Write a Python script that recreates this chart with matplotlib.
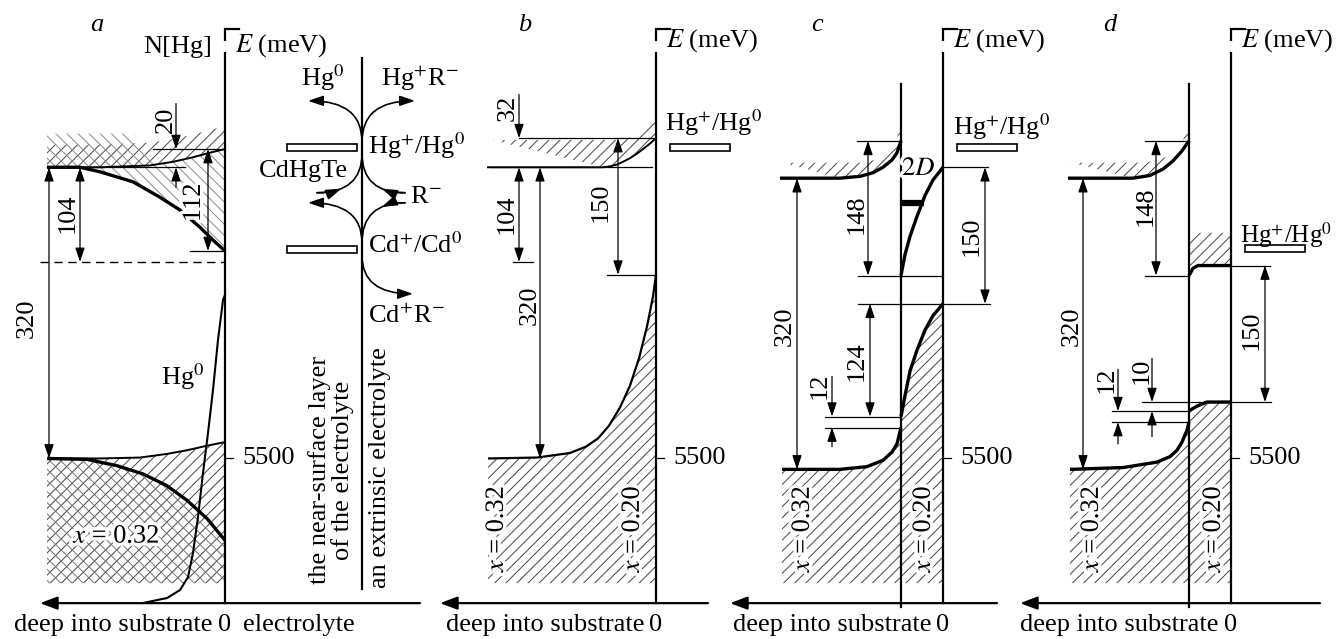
import numpy as np
import matplotlib
matplotlib.use("Agg")
import matplotlib.pyplot as plt
from matplotlib.patches import Polygon, Rectangle, FancyArrowPatch
from matplotlib.path import Path
import matplotlib.patheffects as pe

plt.rcParams['font.family'] = ['Liberation Serif', 'DejaVu Serif']
plt.rcParams['mathtext.fontset'] = 'stix'
plt.rcParams['hatch.linewidth'] = 0.7

W, H, DPI = 1336, 639, 100

# ---------------------------------------------------------------- levels (meV)
E_BOTTOM, E_TOP = 5301.6, 6003.8     # energy range shown in every panel
E_REF = 5500                          # labelled tick
E_FLOOR = 5363                        # lower edge of hatched valence bands
E_XAXIS = 5341                        # depth axis
E_AXIS_TOP = 5946
E_CORNER, E_CORNER_LOW = 5972, 5960
E_TITLE = 5976
E_BOTTOM_TEXT = 5317

# ---------------------------------------------------------------- panel a
A_CB_THIN_X = [-178, -125, -75, -52, -32, -15, 0]
A_CB_THIN_E = [5820, 5820, 5822, 5826, 5831, 5836, 5840]
A_CB_THICK_X = [-178, -145, -125, -92, -65, -45, -25, -12, 0]
A_CB_THICK_E = [5820, 5820, 5815, 5804, 5787, 5773, 5754, 5740, 5728]
A_CB_BACK_TOP = [5857, 5857, 5857, 5857, 5824, 5828, 5833, 5837, 5840]
A_THIN_BAND = 25
A_VB_THIN_X = [-178, -125, -85, -58, -38, -18, 0]
A_VB_THIN_E = [5500, 5500, 5501, 5505, 5509, 5514, 5518]
A_VB_THICK_X = [-178, -138, -108, -82, -58, -38, -18, 0]
A_VB_THICK_E = [5500, 5499, 5492, 5483, 5470, 5454, 5434, 5410]
A_DASHED = 5716
# mercury concentration profile N[Hg] (arbitrary units)
N_HG_X = [-82, -58, -45, -37, -32, -27, -22, -17, -12, -7, -2, 0]
N_HG = [0, 0.016, 0.042, 0.084, 0.162, 0.279, 0.422, 0.552, 0.692, 0.854, 0.984, 1.0]
N_LIM = (-0.117, 1.958)
A_HG_LEVEL, A_CD_LEVEL = 5842, 5730
ELECTROLYTE_X = 137

# ---------------------------------------------------------------- panel b
B_CB_X = [-169, -53, -46, -39, -33, -26, -19, -13, -6, 0]
B_CB_E = [5820, 5820, 5821, 5823, 5826, 5830, 5835, 5840, 5846, 5852]
B_CB_HATCH_X = [-164, -40, -25, -12, 0]
B_CB_HATCH_E = [5850, 5850, 5853, 5860, 5873]
B_VB_X = [-168, -119, -86, -70, -58, -47, -36, -26, -17, -9, -3, 0]
B_VB_E = [5500, 5501, 5506, 5513, 5522, 5536, 5556, 5580, 5610, 5645, 5678, 5702]

# ---------------------------------------------------------------- panel c
INTERFACE_X = -42
C_CB32_X = [-163, -103, -83, -70, -60, -51, -46, -42]
C_CB32_E = [5808, 5808, 5810, 5814, 5820, 5828, 5836, 5849]
C_CB_HATCH_X = [-160, -80, -62, -50, -42]
C_CB_HATCH_E = [5825, 5825, 5830, 5840, 5866]
C_CB20_X = [-42, -38, -33, -26, -18, -10, 0]
C_CB20_E = [5701, 5724, 5744, 5766, 5789, 5806, 5820]
C_2D_LEVEL = 5781
C_VB20_X = [-42, -38, -33, -26, -18, -10, 0]
C_VB20_E = [5546, 5569, 5596, 5619, 5641, 5657, 5670]
C_VB32_X = [-161, -103, -76, -60, -51, -46, -42]
C_VB32_E = [5488, 5488, 5491, 5498, 5507, 5516, 5534]

# ---------------------------------------------------------------- panel d
D_CB32_X = [-163, -98, -81, -68, -58, -49, -42]
D_CB32_E = [5808, 5808, 5811, 5818, 5827, 5838, 5849]
D_CB_HATCH_X = [-160, -85, -62, -50, -42]
D_CB_HATCH_E = [5825, 5825, 5832, 5843, 5869]
D_CB20_X = [-42, -38, -33, -24, 0]
D_CB20_E = [5701, 5709, 5712, 5712, 5712]
D_CB20_HATCH_TOP = 5748
D_VB20_X = [-42, -38, -33, -24, 0]
D_VB20_E = [5552, 5555, 5558, 5562, 5562]
D_VB32_X = [-161, -108, -74, -61, -54, -49, -44, -42]
D_VB32_E = [5488, 5490, 5496, 5502, 5509, 5518, 5531, 5540]
D_HG_LEVEL = 5731

# panel extents on the canvas: (left px, right px, energy-axis px)
PANELS = {'a': (0, 440, 225), 'b': (440, 720, 656),
          'c': (720, 1010, 943), 'd': (1010, 1336, 1231)}

FS = 19
THICK, THIN, AXLW, DIMLW = 2.4, 1.1, 1.6, 0.9
SMALL_HEAD = '-|>,head_length=0.65,head_width=0.22'
DOUBLE_HEAD = '<|-|>,head_length=0.65,head_width=0.22'
HALO = [pe.withStroke(linewidth=5, foreground='white')]

fig = plt.figure(figsize=(W / DPI, H / DPI), dpi=DPI)


def make_axes(key):
    x0, x1, xa = PANELS[key]
    ax = fig.add_axes([x0 / W, 0, (x1 - x0) / W, 1])
    ax.set_xlim(x0 - xa, x1 - xa)
    ax.set_ylim(E_BOTTOM, E_TOP)
    ax.axis('off')
    return ax


def text(ax, x, e, s, rot=0, ha='center', va='center', size=FS, halo=False, **kw):
    t = ax.text(x, e, s, rotation=rot, ha=ha, va=va, fontsize=size, zorder=6, **kw)
    if halo:
        t.set_path_effects(HALO)
    return t


def hline(ax, e, x0, x1, lw=DIMLW):
    ax.plot([x0, x1], [e, e], color='k', lw=lw, clip_on=False, zorder=4)


def arrow(ax, x, e0, e1, double=False):
    ax.add_patch(FancyArrowPatch((x, e0), (x, e1),
                                 arrowstyle=DOUBLE_HEAD if double else SMALL_HEAD,
                                 mutation_scale=13, lw=DIMLW, color='k',
                                 shrinkA=0, shrinkB=0, clip_on=False, zorder=4))


def curve(ax, xs, es, lw=THICK):
    ax.plot(xs, es, color='k', lw=lw, clip_on=False, zorder=3,
            solid_capstyle='butt', solid_joinstyle='round')


def hatch(ax, xs, es, pattern, color):
    ax.add_patch(Polygon(np.column_stack([xs, es]), closed=True, fill=False,
                         hatch=pattern, edgecolor=color, lw=0, clip_on=False, zorder=1))


def hatch_below(ax, xs, es, pattern, color, floor=E_FLOOR):
    hatch(ax, list(xs) + [xs[-1], xs[0]], list(es) + [floor, floor], pattern, color)


def hatch_between(ax, xs_top, es_top, xs_bot, es_bot, pattern, color):
    hatch(ax, list(xs_top) + list(xs_bot)[::-1], list(es_top) + list(es_bot)[::-1],
          pattern, color)


def frame(ax, key, tip, right, letter_x, unit_e):
    # energy axis with its corner mark
    ax.plot([0, 0], [E_XAXIS, E_AXIS_TOP], color='k', lw=AXLW, clip_on=False)
    ax.plot([0, 0, 14], [E_CORNER_LOW, E_CORNER, E_CORNER], color='k', lw=AXLW,
            clip_on=False, solid_joinstyle='miter')
    text(ax, 10, unit_e, r'$E$ (meV)', ha='left')
    # depth axis pointing into the substrate
    ax.add_patch(FancyArrowPatch((right, E_XAXIS), (tip, E_XAXIS),
                                 arrowstyle='-|>,head_length=0.8,head_width=0.3',
                                 mutation_scale=13, lw=AXLW, color='k',
                                 shrinkA=0, shrinkB=0, clip_on=False))
    text(ax, -12, E_BOTTOM_TEXT, 'deep into substrate', ha='right')
    text(ax, 0, E_BOTTOM_TEXT, '0')
    # reference tick
    ax.plot([0, 8], [E_REF, E_REF], color='k', lw=DIMLW, clip_on=False)
    text(ax, 17, E_REF, '5500', ha='left')
    text(ax, letter_x, E_TITLE, key, style='italic')


def level_bar(ax, e, x0=14, x1=74, h=8):
    ax.add_patch(Rectangle((x0, e - h / 2), x1 - x0, h, facecolor='white',
                           edgecolor='k', lw=1.2, clip_on=False, zorder=4))


def bezier_arrow(ax, p0, p1, p2, head_at_start=False):
    path = Path([p0, p1, p2], [Path.MOVETO, Path.CURVE3, Path.CURVE3])
    if not head_at_start:
        ax.add_patch(FancyArrowPatch(path=path, arrowstyle=SMALL_HEAD, mutation_scale=14,
                                     lw=1.2, color='k', clip_on=False, zorder=4))
        return
    ax.add_patch(FancyArrowPatch(path=path, arrowstyle='-', lw=1.2, color='k',
                                 clip_on=False, zorder=4))
    t = 0.32
    a, b, c = (np.array(p) for p in (p0, p1, p2))
    q0 = a + (b - a) * t
    q1 = b + (c - b) * t
    q = q0 + (q1 - q0) * t
    sub = Path([tuple(a), tuple(q0), tuple(q)], [Path.MOVETO, Path.CURVE3, Path.CURVE3])
    ax.add_patch(FancyArrowPatch(path=sub, arrowstyle=SMALL_HEAD, mutation_scale=14,
                                 lw=1.2, color='k', clip_on=False, zorder=4))


# ================================================================= panel a
ax = make_axes('a')
frame(ax, 'a', -185, 195, -128, 5954)
text(ax, 18, E_BOTTOM_TEXT, 'electrolyte', ha='left')
text(ax, -13, 5952, 'N[Hg]', ha='right')

thin_top = [e + A_THIN_BAND for e in A_CB_THIN_E]
hatch_between(ax, A_CB_THIN_X, thin_top, A_CB_THIN_X, A_CB_THIN_E, '///', '#444444')
hatch_between(ax, A_CB_THICK_X, A_CB_BACK_TOP, A_CB_THICK_X, A_CB_THICK_E, '\\\\\\', '#8a8a8a')
hatch_below(ax, A_VB_THIN_X, A_VB_THIN_E, '///', '#444444')
hatch_below(ax, A_VB_THICK_X, A_VB_THICK_E, '\\\\\\', '#777777')

curve(ax, A_CB_THIN_X, A_CB_THIN_E, THIN + 0.3)
curve(ax, A_CB_THICK_X, A_CB_THICK_E, THICK)
curve(ax, A_VB_THIN_X, A_VB_THIN_E, THIN + 0.3)
curve(ax, A_VB_THICK_X, A_VB_THICK_E, THICK)

ax.plot([-185, 0], [A_DASHED, A_DASHED], color='k', lw=1.0, ls=(0, (6, 4)), clip_on=False)
hline(ax, A_CB_THIN_E[0], -178, -40)
hline(ax, A_CB_THIN_E[-1], -72, 0)
hline(ax, A_CB_THICK_E[-1], -35, 0)
arrow(ax, -176, A_CB_THIN_E[0], A_VB_THIN_E[0], double=True)
arrow(ax, -145, A_CB_THIN_E[0], A_DASHED, double=True)
arrow(ax, -17, A_CB_THIN_E[-1], A_CB_THICK_E[-1], double=True)
arrow(ax, -49, 5890, A_CB_THIN_E[-1])
arrow(ax, -49, 5798, A_CB_THIN_E[0])
text(ax, -198, 5654, '320', rot=90)
text(ax, -157, 5770, '104', rot=90)
text(ax, -31, 5781, '112', rot=90, halo=True)
text(ax, -59, 5872, '20', rot=90)
text(ax, -108, 5414, r'$x$ = 0.32', halo=True)
text(ax, -42, 5590, r'Hg$^{0}$')

ax2 = ax.twinx()
ax2.set_ylim(*N_LIM)
ax2.axis('off')
ax2.plot(N_HG_X, N_HG, color='k', lw=1.5, clip_on=False)

# electrolyte side
ax.plot([ELECTROLYTE_X, ELECTROLYTE_X], [5357, 5940], color='k', lw=AXLW, clip_on=False)
level_bar(ax, A_HG_LEVEL, 62, 132)
level_bar(ax, A_CD_LEVEL, 62, 132)
bezier_arrow(ax, (137, 5848), (137, 5893), (83, 5893))
bezier_arrow(ax, (137, 5848), (137, 5893), (190, 5893))
bezier_arrow(ax, (92, 5792), (137, 5792), (137, 5835), head_at_start=True)
bezier_arrow(ax, (180, 5792), (137, 5792), (137, 5835), head_at_start=True)
bezier_arrow(ax, (137, 5737), (137, 5781), (83, 5781))
bezier_arrow(ax, (180, 5781), (137, 5781), (137, 5737), head_at_start=True)
bezier_arrow(ax, (137, 5723), (137, 5681), (188, 5681))
text(ax, 98, 5918, r'Hg$^{0}$')
text(ax, 195, 5918, r'Hg$^{+}$R$^{-}$')
text(ax, 143, 5844, r'Hg$^{+}$/Hg$^{0}$', ha='left')
text(ax, 78, 5816, 'CdHgTe')
text(ax, 185, 5787, r'R$^{-}$', ha='left')
text(ax, 143, 5734, r'Cd$^{+}$/Cd$^{0}$', ha='left')
text(ax, 143, 5657, r'Cd$^{+}$R$^{-}$', ha='left')
text(ax, 106, 5487, 'the near-surface layer\nof the electrolyte', rot=90,
     multialignment='center', linespacing=1.05)
text(ax, 155, 5490, 'an extrinsic electrolyte', rot=90)

# ================================================================= panel b
ax = make_axes('b')
frame(ax, 'b', -216, 52, -131, 5959)
hatch_between(ax, B_CB_HATCH_X, B_CB_HATCH_E, B_CB_X[1:], B_CB_E[1:], '///', '#444444')
hatch_below(ax, B_VB_X, B_VB_E, '///', '#444444')
curve(ax, B_CB_X, B_CB_E, 1.4)
curve(ax, B_VB_X, B_VB_E, 1.6)
hline(ax, B_CB_E[-1], -137, 0)
hline(ax, B_CB_E[0], -166, -4)
hline(ax, 5716, -143, -123)
hline(ax, B_VB_E[-1], -49, 0)
arrow(ax, -137, 5900, B_CB_E[-1])
arrow(ax, -137, B_CB_E[0], 5716, double=True)
arrow(ax, -116, B_CB_E[0], B_VB_E[0], double=True)
arrow(ax, -38, B_CB_E[-1], B_VB_E[-1], double=True)
text(ax, -148, 5885, '32', rot=90)
text(ax, -149, 5768, '104', rot=90)
text(ax, -126, 5668, '320', rot=90)
text(ax, -55, 5782, '150', rot=90)
text(ax, -159, 5423, r'$x$ = 0.32', rot=90, halo=True)
text(ax, -23, 5423, r'$x$ = 0.20', rot=90, halo=True)
level_bar(ax, A_HG_LEVEL)
text(ax, 9, 5869, r'Hg$^{+}$/Hg$^{0}$', ha='left')

# ================================================================= panel c
ax = make_axes('c')
frame(ax, 'c', -213, 54, -126, 5959)
ax.plot([INTERFACE_X, INTERFACE_X], [5337, 5912], color='k', lw=AXLW, clip_on=False)
hatch_between(ax, C_CB_HATCH_X, C_CB_HATCH_E, C_CB32_X[1:], C_CB32_E[1:], '///', '#444444')
vb_x = C_VB32_X + C_VB20_X
vb_e = C_VB32_E + C_VB20_E
hatch_below(ax, vb_x, vb_e, '///', '#444444')
curve(ax, C_CB32_X, C_CB32_E)
curve(ax, C_CB20_X, C_CB20_E)
curve(ax, C_VB32_X, C_VB32_E)
curve(ax, C_VB20_X, C_VB20_E)
ax.plot([INTERFACE_X, -19], [C_2D_LEVEL, C_2D_LEVEL], color='k', lw=4.5,
        solid_capstyle='butt', clip_on=False, zorder=3)
hline(ax, C_CB32_E[-1], -86, INTERFACE_X)
hline(ax, C_CB20_E[0], -85, 0)
hline(ax, C_CB20_E[-1], 0, 45)
hline(ax, C_VB20_E[-1], -85, 47)
hline(ax, C_VB20_E[0], -118, INTERFACE_X)
hline(ax, C_VB32_E[-1], -118, INTERFACE_X)
arrow(ax, -75, C_CB32_E[-1], C_CB20_E[0], double=True)
arrow(ax, 42, C_CB20_E[-1], C_VB20_E[-1], double=True)
arrow(ax, -73, C_VB20_E[-1], C_VB20_E[0], double=True)
arrow(ax, -111, 5590, C_VB20_E[0])
arrow(ax, -111, 5513, C_VB32_E[-1])
arrow(ax, -146, C_CB32_E[0], C_VB32_E[0], double=True)
text(ax, -86, 5768, '148', rot=90)
text(ax, 29, 5744, '150', rot=90)
text(ax, -86, 5607, '124', rot=90)
text(ax, -123, 5580, '12', rot=90)
text(ax, -158, 5645, '320', rot=90)
text(ax, -24, 5818, r'$2D$', halo=True)
text(ax, -140, 5423, r'$x$ = 0.32', rot=90, halo=True)
text(ax, -19, 5423, r'$x$ = 0.20', rot=90, halo=True)
level_bar(ax, A_HG_LEVEL)
text(ax, 10, 5865, r'Hg$^{+}$/Hg$^{0}$', ha='left')

# ================================================================= panel d
ax = make_axes('d')
frame(ax, 'd', -211, 89, -121, 5959)
ax.plot([INTERFACE_X, INTERFACE_X], [5337, 5912], color='k', lw=AXLW, clip_on=False)
hatch_between(ax, D_CB_HATCH_X, D_CB_HATCH_E, D_CB32_X[1:], D_CB32_E[1:], '///', '#444444')
hatch_between(ax, [INTERFACE_X, 0], [D_CB20_HATCH_TOP] * 2, D_CB20_X, D_CB20_E,
              '///', '#444444')
vb_x = D_VB32_X + D_VB20_X
vb_e = D_VB32_E + D_VB20_E
hatch_below(ax, vb_x, vb_e, '///', '#444444')
curve(ax, D_CB32_X, D_CB32_E)
curve(ax, D_CB20_X, D_CB20_E)
curve(ax, D_VB32_X, D_VB32_E)
curve(ax, D_VB20_X, D_VB20_E)
hline(ax, D_CB32_E[-1], -86, INTERFACE_X)
hline(ax, D_CB20_E[0], -86, INTERFACE_X)
hline(ax, D_CB20_E[-1], 0, 39)
hline(ax, D_VB20_E[-1], -89, 40)
hline(ax, D_VB20_E[0], -119, INTERFACE_X)
hline(ax, D_VB32_E[-1], -119, INTERFACE_X)
arrow(ax, -75, D_CB32_E[-1], D_CB20_E[0], double=True)
arrow(ax, 34, D_CB20_E[-1], D_VB20_E[-1], double=True)
arrow(ax, -79, 5610, D_VB20_E[-1])
arrow(ax, -79, 5524, D_VB20_E[0])
arrow(ax, -113, 5598, D_VB20_E[0])
arrow(ax, -113, 5516, D_VB32_E[-1])
arrow(ax, -148, D_CB32_E[0], D_VB32_E[0], double=True)
text(ax, -85, 5777, '148', rot=90)
text(ax, 21, 5641, '150', rot=90)
text(ax, -89, 5596, '10', rot=90)
text(ax, -124, 5587, '12', rot=90)
text(ax, -159, 5645, '320', rot=90)
text(ax, -139, 5423, r'$x$ = 0.32', rot=90, halo=True)
text(ax, -17, 5423, r'$x$ = 0.20', rot=90, halo=True)
level_bar(ax, D_HG_LEVEL)
text(ax, 9, 5746, r'Hg$^{+}$/Hg$^{0}$', ha='left', size=18)

fig.savefig('out.png', dpi=DPI)
